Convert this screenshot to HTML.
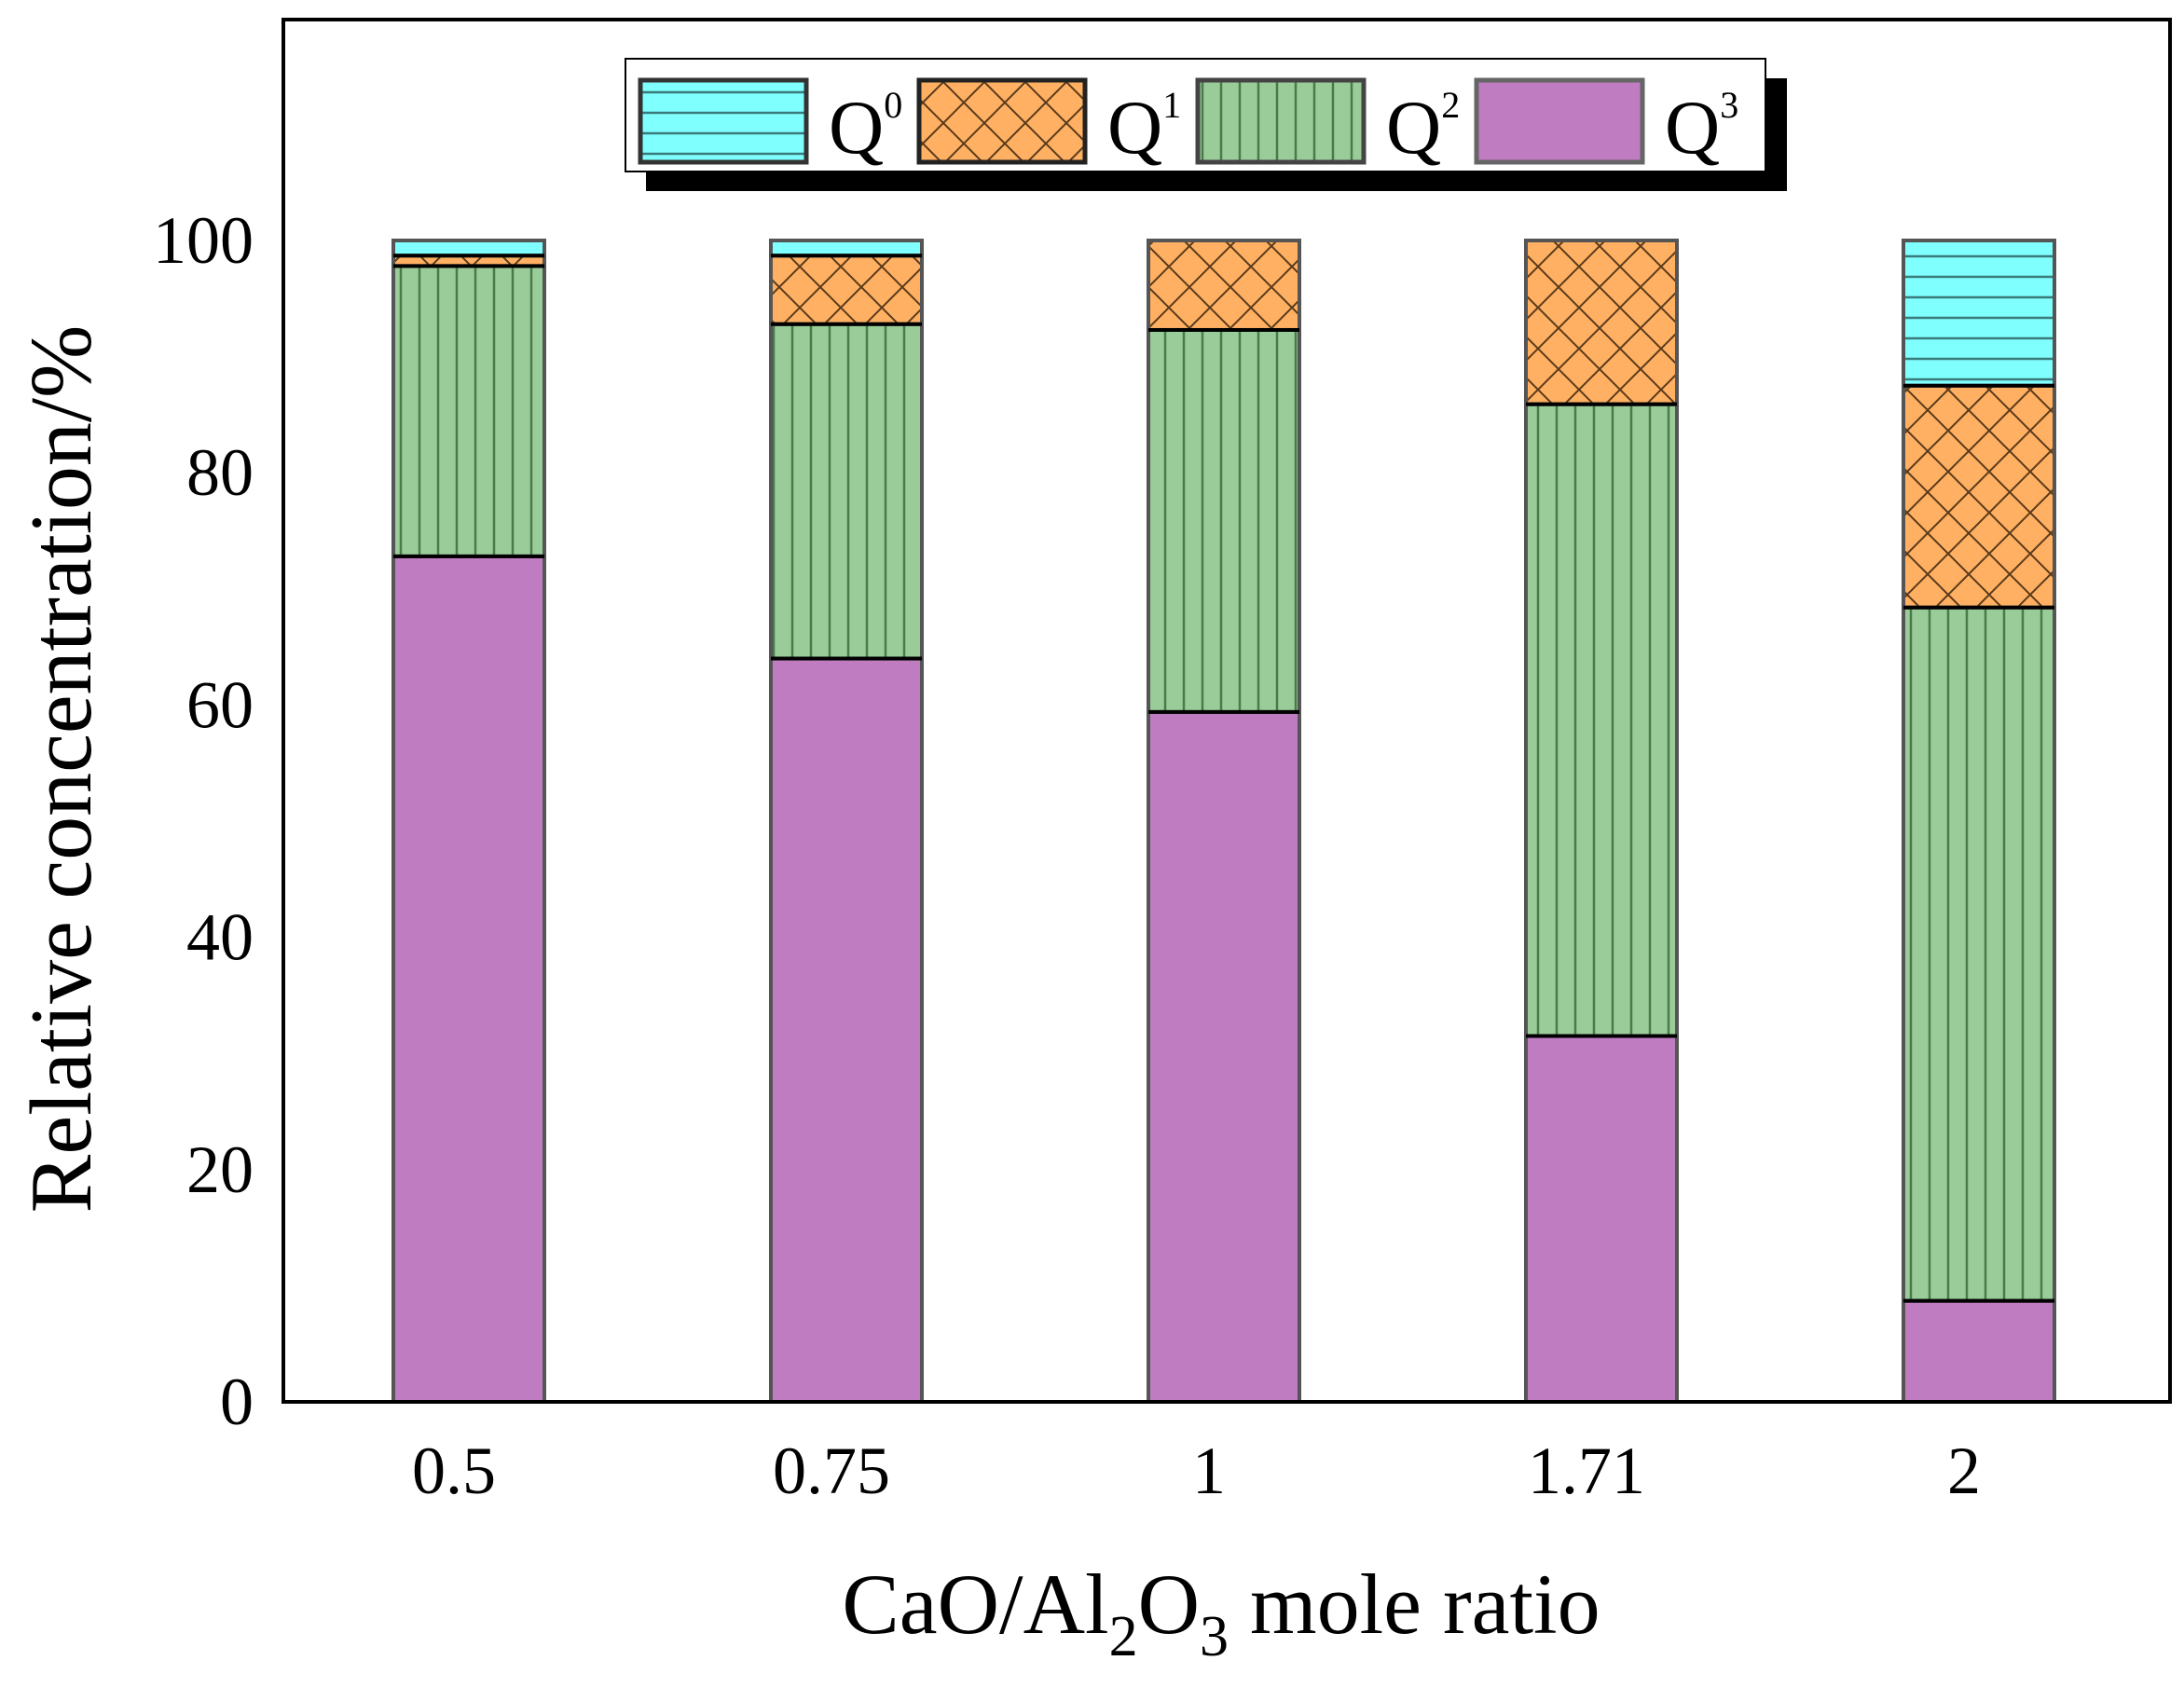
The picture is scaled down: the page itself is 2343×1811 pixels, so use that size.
<!DOCTYPE html>
<html><head><meta charset="utf-8"><style>
html,body{margin:0;padding:0;background:#fff;}
svg{display:block;}
text{font-family:"Liberation Serif",serif;fill:#000;}
</style></head><body>
<svg id="chart" width="2343" height="1811" viewBox="0 0 2343 1811">
<defs>
<pattern id="pQ0" patternUnits="userSpaceOnUse" width="40" height="22"><rect width="40" height="22" fill="#80ffff"/><line x1="0" y1="11" x2="40" y2="11" stroke="#3a7a7a" stroke-width="2.5"/></pattern>
<pattern id="pQ1" patternUnits="userSpaceOnUse" width="44" height="44"><rect width="44" height="44" fill="#ffb062"/><path d="M0 0L44 44M44 0L0 44" stroke="#5a3a1a" stroke-width="2"/></pattern>
<pattern id="pQ2" patternUnits="userSpaceOnUse" width="20" height="20"><rect width="20" height="20" fill="#99cc99"/><line x1="10" y1="0" x2="10" y2="20" stroke="#4a7a4a" stroke-width="2.5"/></pattern>
<pattern id="pQ3" patternUnits="userSpaceOnUse" width="20" height="20"><rect width="20" height="20" fill="#c07cc0"/></pattern>
</defs>
<rect x="0" y="0" width="2343" height="1811" fill="#fff"/>
<g id="bars"></g>
<rect x="304" y="21" width="2024" height="1483" fill="none" stroke="#000" stroke-width="4"/>
<g id="yticks"></g>
<g id="xticks"></g>
<text x="0" y="0" transform="translate(97,825) rotate(-90)" text-anchor="middle" font-size="94">Relative concentration/%</text>
<text x="1310" y="1752" text-anchor="middle" font-size="92">CaO/Al<tspan font-size="62" dy="24">2</tspan><tspan dy="-24">O</tspan><tspan font-size="62" dy="24">3</tspan><tspan dy="-24"> mole ratio</tspan></text>
<g>
<rect x="693" y="84" width="1224" height="121" fill="#000"/>
<rect x="671" y="63" width="1223" height="121" fill="#fff" stroke="#000" stroke-width="2"/>
<g id="legend-items"></g>
</g>
</svg>
<script>
const categories = ["0.5", "0.75", "1", "1.71", "2"];
const seriesNames = ["Q0", "Q1", "Q2", "Q3"];
const q3Values = [72.8, 64.0, 59.4, 31.5, 8.7];
const q2Values = [25.0, 28.8, 32.9, 54.4, 59.7];
const q1Values = [0.9, 5.9, 7.7, 14.1, 19.1];
const q0Values = [1.3, 1.3, 0.0, 0.0, 12.5];
const yTicks = [0, 20, 40, 60, 80, 100];

const NS = "http://www.w3.org/2000/svg";
const plotLeft = 304, plotRight = 2328, y0px = 1504, y100px = 258;
const yScale = v => y0px - v * (y0px - y100px) / 100;
const step = 405, firstCenter = 503, barW = 162;
const xScale = i => firstCenter + i * step;

function mk(tag, attrs, parent){
  const e = document.createElementNS(NS, tag);
  for (const k in attrs) e.setAttribute(k, attrs[k]);
  parent.appendChild(e);
  return e;
}

const barsG = document.getElementById("bars");
const stack = [["Q3", q3Values, "pQ3"], ["Q2", q2Values, "pQ2"], ["Q1", q1Values, "pQ1"], ["Q0", q0Values, "pQ0"]];
categories.forEach((c, i) => {
  let base = 0;
  const cx = xScale(i);
  stack.forEach(([name, vals, pat]) => {
    const v = vals[i];
    if (v <= 0) return;
    const yTop = yScale(base + v), yBot = yScale(base);
    const r = mk("rect", {x: cx - barW/2, y: yTop, width: barW, height: yBot - yTop, fill: "url(#" + pat + ")", stroke: "#555", "stroke-width": 4}, barsG);
    
    
    base += v;
  });
  let b2 = 0;
  stack.slice(0, 3).forEach(([name, vals]) => {
    b2 += vals[i];
    if (b2 >= 99.9) return;
    const l = mk("line", {x1: cx - barW/2, x2: cx + barW/2, y1: yScale(b2), y2: yScale(b2), stroke: "#000", "stroke-width": 4}, barsG);
    
    
  });
});

const yG = document.getElementById("yticks");
yTicks.forEach(t => {
  const tx = mk("text", {x: 272, y: yScale(t) + 24, "text-anchor": "end", "font-size": 72}, yG);
  tx.textContent = t;
  
  
});
const xG = document.getElementById("xticks");
categories.forEach((c, i) => {
  const tx = mk("text", {x: xScale(i) - 16, y: 1602, "text-anchor": "middle", "font-size": 72}, xG);
  tx.textContent = c;
  
  
});

const lg = document.getElementById("legend-items");
const legendPats = ["pQ0", "pQ1", "pQ2", "pQ3"];
const legendStroke = ["#333", "#222", "#444", "#666"];
seriesNames.forEach((n, i) => {
  const x = 687 + i * 299;
  const r = mk("rect", {x: x, y: 86, width: 178, height: 88, fill: "url(#" + legendPats[i] + ")", stroke: legendStroke[i], "stroke-width": 5}, lg);
  
  
  const t = mk("text", {x: x + 202, y: 164, "font-size": 82}, lg);
  
  
  t.textContent = "Q";
  const s = mk("tspan", {"font-size": 40, dy: -38}, t);
  s.textContent = n.slice(1);
});
</script>
</body></html>
